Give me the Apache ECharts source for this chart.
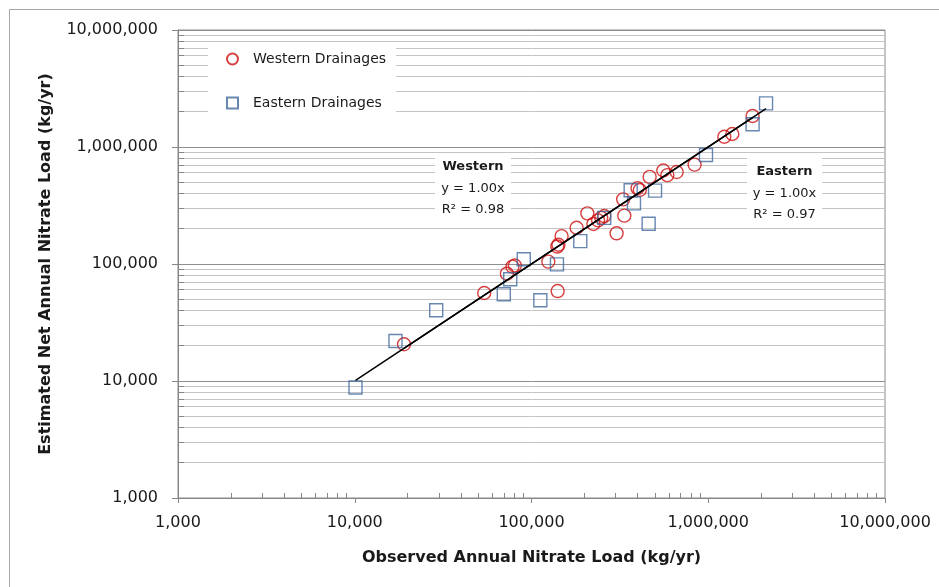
<!DOCTYPE html>
<html>
<head>
<meta charset="utf-8">
<title>Estimated vs Observed Annual Nitrate Load</title>
<script src="https://cdn.jsdelivr.net/npm/echarts@6/dist/echarts.min.js"></script>
<style>
  html, body { margin: 0; padding: 0; background: #ffffff; }
  #chart { width: 939px; height: 587px; }
</style>
</head>
<body>
<div id="chart"></div>
<script>
// Observed (x) vs estimated (y) annual nitrate loads, kg/yr
const westernDrainages = [
  [19000, 20600], [54000, 56500], [72600, 82600], [78000, 95000], [80500, 97000],
  [124500, 104800], [140000, 141000], [142000, 146000], [148000, 173000], [140600, 58700],
  [180000, 204000], [207000, 271000], [224000, 220000], [238000, 236000], [248000, 248000],
  [258000, 257000], [303000, 183000], [335000, 259000], [330000, 357000], [398000, 445000],
  [410000, 429000], [466000, 555000], [557000, 630000], [587000, 575000], [663000, 611000],
  [837000, 707000], [1233000, 1224000], [1368000, 1291000], [1782000, 1841000]
];
const easternDrainages = [
  [10100, 8800], [17000, 22000], [28900, 40200], [69700, 55100], [75800, 74000],
  [90400, 109700], [112200, 49000], [139300, 99300], [188800, 157000], [258000, 248000],
  [364000, 427000], [380000, 330000], [460000, 221000], [500000, 424000], [971000, 855000],
  [1782000, 1563000], [2123000, 2360000]
];

// Fitted lines (y = 1.00x) spanning each group's observed range
const westernFit = [[19000, 19000], [1782000, 1782000]];
const easternFit = [[10100, 10100], [2123000, 2123000]];

// Axis range and labels
const decades = [1000, 10000, 100000, 1000000, 10000000];
const tickLabels = ['1,000', '10,000', '100,000', '1,000,000', '10,000,000'];
const minorSteps = [2, 3, 4, 5, 6, 7, 8, 9];

const seriesNames = ['Western Drainages', 'Eastern Drainages'];
const fitLabels = {
  western: ['Western', 'y = 1.00x', 'R\u00B2 = 0.98'],
  eastern: ['Eastern', 'y = 1.00x', 'R\u00B2 = 0.97']
};

const minorValues = [];
for (let i = 0; i < decades.length - 1; i++) {
  minorSteps.forEach(function (k) { minorValues.push(decades[i] * k); });
}

const AX_MIN = decades[0];
const AX_MAX = decades[decades.length - 1];
const FONT = '"DejaVu Sans", sans-serif';
const RED = '#CC1010';
const BLUE = '#41699E';
const INK = '#1a1a1a';

function labelFor(v) {
  const idx = Math.round(Math.log10(v)) - 3;
  return tickLabels[idx] !== undefined ? tickLabels[idx] : '';
}

function crisp(v) { return Math.round(v - 0.5) + 0.5; }

// white box holding a trendline's name, equation and R²
function fitBox(left, top, w, h, lines, firstY) {
  const cx = w / 2;
  const kids = [
    { type: 'rect', z: 100, shape: { x: 0, y: 0, width: w, height: h }, style: { fill: '#ffffff' } }
  ];
  lines.forEach(function (t, i) {
    kids.push({
      type: 'text', z: 101, x: cx, y: firstY + i * 21.5,
      style: { text: t, fontFamily: FONT, fontSize: 13, fontWeight: i === 0 ? 'bold' : 'normal',
               fill: INK, align: 'center', verticalAlign: 'middle' }
    });
  });
  return { type: 'group', z: 100, left: left, top: top, children: kids };
}

const chart = echarts.init(document.getElementById('chart'), null, { renderer: 'canvas' });

const option = {
  backgroundColor: '#ffffff',
  animation: false,
  textStyle: { fontFamily: FONT },
  grid: {
    left: 178, right: 54, top: 30, bottom: 89,
    show: true, borderColor: '#8C8C8C', borderWidth: 1, backgroundColor: 'transparent'
  },
  legend: {
    data: seriesNames,
    orient: 'vertical',
    left: 208, top: 44,
    width: 189,
    backgroundColor: '#ffffff',
    padding: [8, 10, 12, 18],
    itemGap: 30,
    itemWidth: 11, itemHeight: 11,
    textStyle: { fontFamily: FONT, fontSize: 14, color: INK, padding: [0, 0, 0, 10] }
  },
  xAxis: {
    type: 'log', logBase: 10, min: AX_MIN, max: AX_MAX,
    name: 'Observed Annual Nitrate Load (kg/yr)',
    nameLocation: 'middle', nameGap: 52,
    nameTextStyle: { fontFamily: FONT, fontSize: 16, fontWeight: 'bold', color: INK },
    axisLine: { show: true, lineStyle: { color: '#868686', width: 1 } },
    axisTick: { show: true, inside: false, length: 5, lineStyle: { color: '#868686' } },
    axisLabel: { fontFamily: FONT, fontSize: 16, color: INK, margin: 17, formatter: labelFor },
    splitLine: { show: false },
    minorTick: { show: false }, minorSplitLine: { show: false }
  },
  yAxis: {
    type: 'log', logBase: 10, min: AX_MIN, max: AX_MAX,
    name: 'Estimated Net Annual Nitrate Load (kg/yr)',
    nameLocation: 'middle', nameGap: 124, nameRotate: 90,
    nameTextStyle: { fontFamily: FONT, fontSize: 16, fontWeight: 'bold', color: INK },
    axisLine: { show: true, lineStyle: { color: '#868686', width: 1 } },
    axisTick: { show: true, inside: false, length: 6, lineStyle: { color: '#868686' } },
    axisLabel: { fontFamily: FONT, fontSize: 16, color: INK, margin: 20, formatter: labelFor },
    splitLine: { show: true, lineStyle: { color: '#8E8E8E', width: 1 } },
    minorTick: { show: false }, minorSplitLine: { show: false }
  },
  series: [
    {
      // minor horizontal gridlines plus short inside ticks on the value axis
      type: 'custom',
      silent: true,
      z: 1,
      clip: true,
      data: minorValues.map(function (v) { return [AX_MIN, v]; }),
      encode: { x: 0, y: 1 },
      renderItem: function (params, api) {
        const v = api.value(1);
        const p0 = api.coord([AX_MIN, v]);
        const p1 = api.coord([AX_MAX, v]);
        const y = crisp(p0[1]);
        return {
          type: 'group',
          children: [
            { type: 'line', shape: { x1: p0[0], y1: y, x2: p1[0], y2: y },
              style: { stroke: '#C4C4C4', lineWidth: 1 } },
            { type: 'line', shape: { x1: p0[0], y1: y, x2: p0[0] + 6, y2: y },
              style: { stroke: '#868686', lineWidth: 1 } }
          ]
        };
      }
    },
    {
      // minor ticks along the bottom axis, pointing into the plot
      type: 'custom',
      silent: true,
      z: 2,
      clip: false,
      data: minorValues.map(function (v) { return [v, AX_MIN]; }),
      encode: { x: 0, y: 1 },
      renderItem: function (params, api) {
        const p = api.coord([api.value(0), AX_MIN]);
        const x = crisp(p[0]);
        return { type: 'line', shape: { x1: x, y1: p[1], x2: x, y2: p[1] - 5 },
                 style: { stroke: '#868686', lineWidth: 1 } };
      }
    },
    {
      name: seriesNames[0],
      type: 'scatter',
      z: 3,
      symbol: 'circle',
      symbolSize: 13,
      itemStyle: { color: 'rgba(0,0,0,0)', borderColor: RED, borderWidth: 1.4 },
      emphasis: { disabled: true },
      data: westernDrainages
    },
    {
      name: seriesNames[1],
      type: 'scatter',
      z: 3,
      symbol: 'rect',
      symbolSize: 13,
      itemStyle: { color: 'rgba(0,0,0,0)', borderColor: BLUE, borderWidth: 1.4 },
      emphasis: { disabled: true },
      data: easternDrainages
    },
    {
      name: 'Western fit',
      type: 'line',
      z: 4,
      symbol: 'none',
      silent: true,
      lineStyle: { color: '#000000', width: 1.5 },
      data: westernFit
    },
    {
      name: 'Eastern fit',
      type: 'line',
      z: 4,
      symbol: 'none',
      silent: true,
      lineStyle: { color: '#000000', width: 1.5 },
      data: easternFit
    }
  ],
  graphic: [
    // outer chart frame
    { type: 'rect', z: 0, silent: true,
      shape: { x: 9.5, y: 9.5, width: 1000, height: 1000 },
      style: { fill: 'none', stroke: '#A6A6A6', lineWidth: 1 } },
    // trendline equation boxes
    fitBox(435, 153, 76, 69, fitLabels.western, 14),
    fitBox(747, 156, 75, 69, fitLabels.eastern, 16)
  ]
};

chart.setOption(option);
</script>
</body>
</html>
